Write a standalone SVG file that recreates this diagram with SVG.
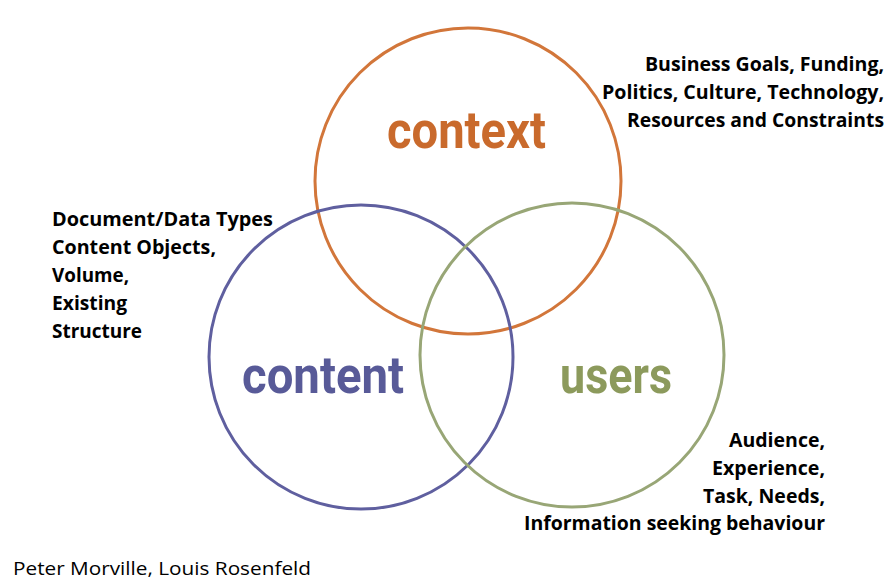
<svg xmlns="http://www.w3.org/2000/svg" width="894" height="585" viewBox="0 0 894 585">
<style>
.ring{fill:none;stroke-width:3}
.big{font-family:Roboto,"Liberation Sans",sans-serif;font-weight:bold;font-size:52px}
.note{font-family:"Open Sans","Liberation Sans",sans-serif;font-weight:bold;font-size:19px;fill:#000}
.credit{font-family:"Open Sans","Liberation Sans",sans-serif;font-size:19px;fill:#000}
</style>
<rect width="894" height="585" fill="#fff"/>
<g id="context">
<circle class="ring" cx="468" cy="181" r="153" stroke="#d2763a"/>
<text class="big" x="387" y="148" fill="#c96a2c" textLength="159" lengthAdjust="spacingAndGlyphs">context</text>
</g>
<g id="content">
<circle class="ring" cx="361" cy="357" r="152" stroke="#5f5f9f"/>
<text class="big" x="242" y="393" fill="#585a98" textLength="162" lengthAdjust="spacingAndGlyphs">content</text>
</g>
<g id="users">
<circle class="ring" cx="572" cy="355" r="152" stroke="#98a676"/>
<text class="big" x="560" y="393" fill="#8c9a5c" textLength="112" lengthAdjust="spacingAndGlyphs">users</text>
</g>
<g id="context-notes">
<text class="note" x="645" y="71" textLength="239" lengthAdjust="spacingAndGlyphs">Business Goals, Funding,</text>
<text class="note" x="602" y="99" textLength="282" lengthAdjust="spacingAndGlyphs">Politics, Culture, Technology,</text>
<text class="note" x="627" y="127" textLength="257" lengthAdjust="spacingAndGlyphs">Resources and Constraints</text>
</g>
<g id="content-notes">
<text class="note" x="52" y="226" textLength="221" lengthAdjust="spacingAndGlyphs">Document/Data Types</text>
<text class="note" x="52" y="254" textLength="164" lengthAdjust="spacingAndGlyphs">Content Objects,</text>
<text class="note" x="52" y="282" textLength="77" lengthAdjust="spacingAndGlyphs">Volume,</text>
<text class="note" x="52" y="310" textLength="75" lengthAdjust="spacingAndGlyphs">Existing</text>
<text class="note" x="52" y="338" textLength="90" lengthAdjust="spacingAndGlyphs">Structure</text>
</g>
<g id="users-notes">
<text class="note" x="729" y="447" textLength="96" lengthAdjust="spacingAndGlyphs">Audience,</text>
<text class="note" x="712" y="475" textLength="113" lengthAdjust="spacingAndGlyphs">Experience,</text>
<text class="note" x="703" y="503" textLength="122" lengthAdjust="spacingAndGlyphs">Task, Needs,</text>
<text class="note" x="524" y="530" textLength="301" lengthAdjust="spacingAndGlyphs">Information seeking behaviour</text>
</g>
<g id="credit">
<text class="credit" x="13" y="575" textLength="298" lengthAdjust="spacingAndGlyphs">Peter Morville, Louis Rosenfeld</text>
</g>
</svg>
